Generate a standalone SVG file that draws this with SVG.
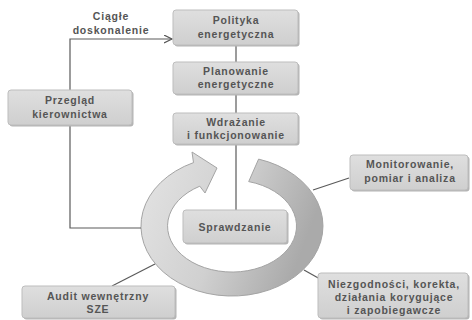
<svg xmlns="http://www.w3.org/2000/svg" width="472" height="320" viewBox="0 0 472 320">
<defs>
<linearGradient id="ringGrad" x1="0" y1="0" x2="1" y2="0.3">
<stop offset="0" stop-color="#e4e4e4"/>
<stop offset="0.55" stop-color="#d0d0d0"/>
<stop offset="1" stop-color="#aaaaaa"/>
</linearGradient>
<linearGradient id="boxGrad" x1="0" y1="0" x2="0" y2="1">
<stop offset="0" stop-color="#dfdfdf"/>
<stop offset="1" stop-color="#cfcfcf"/>
</linearGradient>
<marker id="arr" markerWidth="10" markerHeight="10" refX="8" refY="4" orient="auto" markerUnits="userSpaceOnUse">
<path d="M0,0 L8,4 L0,8" fill="none" stroke="#555" stroke-width="1.2"/>
</marker>
</defs>
<style>
.box{fill:url(#boxGrad);stroke:#bdbdbd;stroke-width:1}
.shadow{fill:#b4b4b4}
.t{font-family:"Liberation Sans",Arial,sans-serif;font-size:10.5px;font-weight:bold;fill:#555555;text-anchor:middle;letter-spacing:0.8px}
.ln{fill:none;stroke:#5a5a5a;stroke-width:1.2}
</style>
<rect width="472" height="320" fill="#ffffff"/>

<g id="ring">
<path d="M258.6,159.1 A91,70 0 1 1 193.5,162.6 L192,152 L217,168 L205,193 L199.8,186.2 A64.5,46 0 1 0 248.7,181.6 Z" fill="url(#ringGrad)" stroke="#a4a4a4" stroke-width="1"/>
</g>

<g id="connectors">
<path class="ln" d="M70,90 V39 H172" marker-end="url(#arr)"/>
<path class="ln" d="M70,125 V228 H141"/>
<line class="ln" x1="236" y1="45" x2="236" y2="62"/>
<line class="ln" x1="236" y1="94" x2="236" y2="113"/>
<line class="ln" x1="236" y1="144" x2="236" y2="210"/>
<line class="ln" x1="349" y1="178" x2="313" y2="190"/>
<line class="ln" x1="320" y1="279" x2="304" y2="270"/>
<line class="ln" x1="112" y1="286" x2="155" y2="264"/>
</g>

<g id="label-doskonalenie">
<text class="t" x="111" y="20">Ciągłe</text>
<text class="t" x="111" y="34">doskonalenie</text>
</g>

<g id="polityka">
<rect class="shadow" x="174.5" y="11.5" width="125" height="35" rx="3"/>
<rect class="box" x="173" y="10" width="125" height="35" rx="3"/>
<text class="t" x="236" y="24">Polityka</text>
<text class="t" x="236" y="38">energetyczna</text>
</g>

<g id="planowanie">
<rect class="shadow" x="174.5" y="63.5" width="125" height="32" rx="3"/>
<rect class="box" x="173" y="62" width="125" height="32" rx="3"/>
<text class="t" x="236" y="75">Planowanie</text>
<text class="t" x="236" y="88">energetyczne</text>
</g>

<g id="wdrazanie">
<rect class="shadow" x="174.5" y="114.5" width="125" height="31" rx="3"/>
<rect class="box" x="173" y="113" width="125" height="31" rx="3"/>
<text class="t" x="236" y="126">Wdrażanie</text>
<text class="t" x="236" y="139">i funkcjonowanie</text>
</g>

<g id="przeglad">
<rect class="shadow" x="9.5" y="91.5" width="124" height="35" rx="3"/>
<rect class="box" x="8" y="90" width="124" height="35" rx="3"/>
<text class="t" x="70" y="104">Przegląd</text>
<text class="t" x="70" y="118">kierownictwa</text>
</g>

<g id="sprawdzanie">
<rect class="shadow" x="184.5" y="211.5" width="104" height="33" rx="3"/>
<rect class="box" x="183" y="210" width="104" height="33" rx="3"/>
<text class="t" x="235" y="231">Sprawdzanie</text>
</g>

<g id="monitorowanie">
<rect class="shadow" x="351.5" y="156.5" width="118" height="35" rx="3"/>
<rect class="box" x="350" y="155" width="118" height="35" rx="3"/>
<text class="t" x="410" y="168">Monitorowanie,</text>
<text class="t" x="410" y="182">pomiar i analiza</text>
</g>

<g id="niezgodnosci">
<rect class="shadow" x="319.5" y="274.5" width="150" height="45" rx="3"/>
<rect class="box" x="318" y="273" width="150" height="45" rx="3"/>
<text class="t" x="394" y="288">Niezgodności, korekta,</text>
<text class="t" x="394" y="301">działania korygujące</text>
<text class="t" x="394" y="314">i zapobiegawcze</text>
</g>

<g id="audit">
<rect class="shadow" x="23.5" y="287.5" width="153" height="32" rx="3"/>
<rect class="box" x="22" y="286" width="153" height="32" rx="3"/>
<text class="t" x="98" y="300">Audit wewnętrzny</text>
<text class="t" x="98" y="313">SZE</text>
</g>
</svg>
